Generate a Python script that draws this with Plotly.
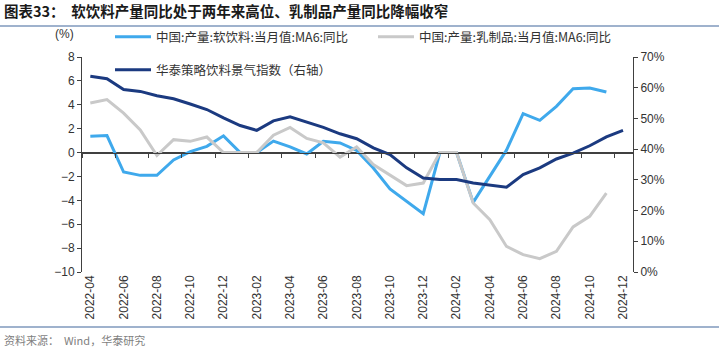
import plotly.graph_objects as go

months = ["2022-04", "2022-05", "2022-06", "2022-07", "2022-08", "2022-09", "2022-10", "2022-11",
          "2022-12", "2023-01", "2023-02", "2023-03", "2023-04", "2023-05", "2023-06", "2023-07",
          "2023-08", "2023-09", "2023-10", "2023-11", "2023-12", "2024-01", "2024-02", "2024-03",
          "2024-04", "2024-05", "2024-06", "2024-07", "2024-08", "2024-09", "2024-10", "2024-11",
          "2024-12"]

soft_drinks = [1.36, 1.42, -1.63, -1.91, -1.91, -0.62, 0.08, 0.52, 1.40, 0.0, 0.0, 0.96,
               0.47, -0.12, 0.94, 0.80, 0.18, -1.29, -3.05, -4.08, -5.12, 0.0, 0.0, -4.17,
               -1.95, 0.20, 3.26, 2.70, 3.87, 5.35, 5.41, 5.07]
dairy = [4.15, 4.43, 3.30, 1.90, -0.25, 1.08, 0.94, 1.30, 0.0, 0.0, 0.0, 1.45,
         2.10, 1.18, 0.82, -0.38, 0.47, -1.00, -1.85, -2.77, -2.55, 0.0, 0.0, -4.22,
         -5.62, -7.86, -8.55, -8.88, -8.27, -6.23, -5.34, -3.39]
bev_index = [63.7, 62.9, 59.4, 58.8, 57.4, 56.4, 54.7, 52.9, 50.2, 47.7, 46.1, 49.2,
             50.5, 48.7, 47.1, 45.0, 43.4, 40.4, 38.2, 33.9, 30.6, 30.1, 30.1, 29.0,
             28.2, 27.6, 31.7, 33.9, 36.8, 38.7, 41.1, 44.0, 46.1]

names = ["中国:产量:软饮料:当月值:MA6:同比", "中国:产量:乳制品:当月值:MA6:同比", "华泰策略饮料景气指数（右轴）"]
title_text = "图表33：  软饮料产量同比处于两年来高位、乳制品产量同比降幅收窄"
source_text = "资料来源：  Wind，华泰研究"

C_LB = "#3FA9EC"
C_GR = "#C9C9C9"
C_NV = "#1B3A80"
AX = "#404040"

W, H = 719, 350
L, R, T, B = 82, 86, 57, 78
pw = W - L - R
ph = H - T - B

def px_x(p):
    return (p - L) / pw

def px_y(p):
    return (H - B - p) / ph

fig = go.Figure()
# invisible helper trace so the zero-line axis (x2) gets rendered
fig.add_trace(go.Scatter(x=[0], y=[0], xaxis="x2", yaxis="y", showlegend=False,
                         hoverinfo="skip", mode="markers", marker=dict(opacity=0, size=1)))
fig.add_trace(go.Scatter(x=months[:len(soft_drinks)], y=soft_drinks, name=names[0], mode="lines",
                         line=dict(color=C_LB, width=3), legend="legend"))
fig.add_trace(go.Scatter(x=months[:len(dairy)], y=dairy, name=names[1], mode="lines",
                         line=dict(color=C_GR, width=3), legend="legend2"))
fig.add_trace(go.Scatter(x=months, y=bev_index, name=names[2], mode="lines", yaxis="y2",
                         line=dict(color=C_NV, width=3), legend="legend3"))

tick_font = dict(family="Liberation Sans, Arial, sans-serif", size=12, color="#333333")
leg_font = dict(family="Noto Sans CJK SC", size=12.5, color="#333333")

fig.update_layout(
    width=W, height=H,
    margin=dict(l=L, r=R, t=T, b=B, pad=0),
    paper_bgcolor="white", plot_bgcolor="white",
    xaxis=dict(type="category", categoryorder="array", categoryarray=months,
               range=[-0.5, 32.6], tickmode="array", tickvals=months[::2], ticktext=months[::2],
               tickangle=-90, tickfont=tick_font, showline=False, ticks="", showgrid=False,
               zeroline=False),
    xaxis2=dict(type="linear", overlaying="x", anchor="free", position=10 / 18, side="bottom",
                range=[-0.5, 32.6], tickmode="array", tickvals=[k - 0.5 for k in range(0, 34, 2)],
                showticklabels=False, ticks="outside", ticklen=4, tickcolor=AX, tickwidth=1,
                showline=True, linecolor=AX, linewidth=1, showgrid=False, zeroline=False),
    yaxis=dict(range=[-10, 8], dtick=2, tick0=0, showline=True, linecolor=AX, linewidth=1,
               ticks="outside", ticklen=4, tickcolor=AX, showgrid=False,
               zeroline=True, zerolinecolor=AX, zerolinewidth=1,
               tickfont=tick_font),
    yaxis2=dict(range=[0, 70], dtick=10, overlaying="y", side="right", anchor="x",
                ticksuffix="%", showline=True, linecolor=AX, linewidth=1, ticks="outside",
                ticklen=4, tickcolor=AX, showgrid=False, zeroline=False, tickfont=tick_font),
    legend=dict(x=px_x(110), y=px_y(37), xanchor="left", yanchor="middle", font=leg_font,
                bgcolor="rgba(0,0,0,0)", borderwidth=0, itemwidth=36),
    legend2=dict(x=px_x(373), y=px_y(37), xanchor="left", yanchor="middle", font=leg_font,
                 bgcolor="rgba(0,0,0,0)", borderwidth=0, itemwidth=36),
    legend3=dict(x=px_x(110), y=px_y(70), xanchor="left", yanchor="middle", font=leg_font,
                 bgcolor="rgba(0,0,0,0)", borderwidth=0, itemwidth=36),
    showlegend=True,
)

fig.add_shape(type="line", xref="paper", yref="paper", x0=-L / pw, x1=(W - L) / pw,
              y0=px_y(26), y1=px_y(26), line=dict(color="#7F98BC", width=1.5))
fig.add_shape(type="line", xref="paper", yref="paper", x0=-L / pw, x1=(W - L) / pw,
              y0=px_y(327), y1=px_y(327), line=dict(color="#7F98BC", width=1.5))

fig.add_annotation(text=title_text, xref="paper", yref="paper", x=px_x(2), y=px_y(11),
                   xanchor="left", yanchor="middle", showarrow=False,
                   font=dict(family="Noto Sans CJK SC", size=14.5, color="#1a1a1a", weight="bold"))
fig.add_annotation(text=source_text, xref="paper", yref="paper", x=px_x(2), y=px_y(340),
                   xanchor="left", yanchor="middle", showarrow=False,
                   font=dict(family="Noto Sans CJK SC", size=11, color="#7f7f7f"))
fig.add_annotation(text="(%)", xref="paper", yref="paper", x=px_x(64), y=px_y(34),
                   xanchor="center", yanchor="middle", showarrow=False,
                   font=dict(family="Liberation Sans, Arial, sans-serif", size=12, color="#333333"))

fig.write_html("out.html")
